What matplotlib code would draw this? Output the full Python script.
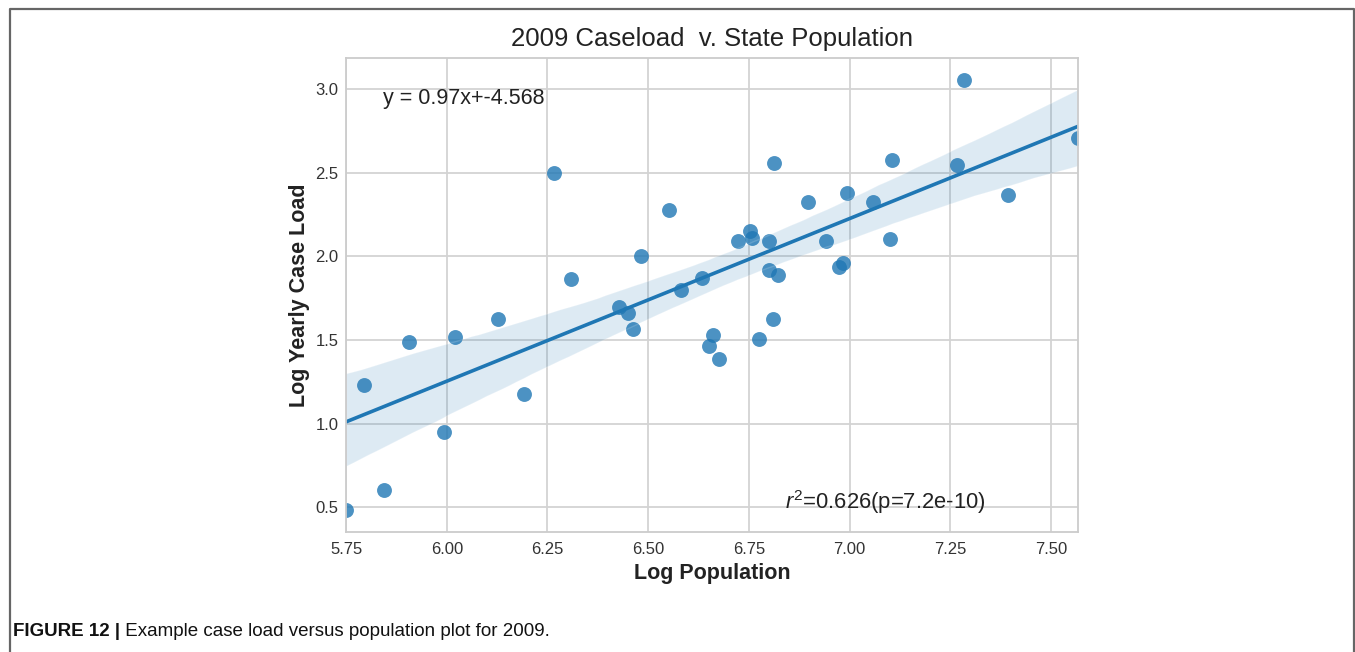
import numpy as np
import matplotlib
matplotlib.use("Agg")
import matplotlib.pyplot as plt
import seaborn as sns
from matplotlib.lines import Line2D

# log population / log yearly case load per state
log_pop = [5.750, 5.795, 5.844, 5.906, 5.993, 6.021, 6.127, 6.192, 6.267, 6.309,
           6.428, 6.450, 6.463, 6.483, 6.552, 6.582, 6.634, 6.651, 6.661, 6.676,
           6.723, 6.753, 6.758, 6.776, 6.800, 6.800, 6.810, 6.813, 6.823, 6.897,
           6.942, 6.974, 6.984, 6.994, 7.059, 7.100, 7.106, 7.267, 7.284, 7.394,
           7.567]
log_load = [0.480, 1.233, 0.600, 1.490, 0.952, 1.520, 1.622, 1.174, 2.500, 1.866,
            1.699, 1.663, 1.567, 2.004, 2.279, 1.800, 1.872, 1.466, 1.532, 1.383,
            2.093, 2.153, 2.110, 1.508, 2.093, 1.920, 1.627, 2.559, 1.890, 2.327,
            2.093, 1.938, 1.962, 2.380, 2.327, 2.105, 2.577, 2.547, 3.056, 2.367,
            2.709]

fit_label = "y = 0.97x+-4.568"
r2_label = r"$r^2$=0.626(p=7.2e-10)"
title = "2009 Caseload  v. State Population"
caption_bold = "FIGURE 12 |"
caption_text = " Example case load versus population plot for 2009."

sns.set_style("whitegrid")
plt.rcParams['font.family'] = ['Liberation Sans', 'DejaVu Sans']
plt.rcParams['mathtext.fontset'] = 'custom'
plt.rcParams['mathtext.it'] = 'Liberation Sans:italic'
plt.rcParams['mathtext.rm'] = 'Liberation Sans'

x = np.array(log_pop)
y = np.array(log_load)

fig = plt.figure(figsize=(13.55, 6.52), dpi=100)
ax = fig.add_axes([0.2554, 0.184, 0.5402, 0.727])

sns.regplot(x=x, y=y, ax=ax, ci=95, seed=0, truncate=True,
            scatter_kws={"s": 115, "linewidths": 0, "alpha": 0.8},
            line_kws={"lw": 2.6}, color="#1f77b4")

ax.set_xlim(x.min(), x.max())
ax.set_xticks([5.75, 6.00, 6.25, 6.50, 6.75, 7.00, 7.25, 7.50])
ax.set_xticklabels(["5.75", "6.00", "6.25", "6.50", "6.75", "7.00", "7.25", "7.50"])
ax.set_yticks([0.5, 1.0, 1.5, 2.0, 2.5, 3.0])
ax.tick_params(axis='both', labelsize=12, labelcolor='#333333')
ax.tick_params(axis='x', pad=4)
ax.tick_params(axis='y', pad=2)

for sp in ax.spines.values():
    sp.set_color('#cccccc')
    sp.set_linewidth(1.3)
ax.grid(color='#d3d3d3', linewidth=1.3)

ax.set_title(title, fontsize=18.5, color='#222222', pad=9)
ax.set_xlabel("Log Population", fontsize=15.5, fontweight='bold', color='#222222')
ax.set_ylabel("Log Yearly Case Load", fontsize=15.5, fontweight='bold', color='#222222')

ax.text(5.842, 2.94, fit_label, fontsize=15.5, color='#222222', va='center')
ax.text(6.84, 0.53, r2_label, fontsize=15.8, color='#222222', va='center')

# caption and outer frame
fig.canvas.draw()
r = fig.canvas.get_renderer()
t1 = fig.text(13 / 1355, 1 - 632 / 652, caption_bold, fontsize=13.5, fontweight='bold',
              color='#111111', va='center')
bb = t1.get_window_extent(renderer=r)
fig.text(bb.x1 / fig.bbox.width, 1 - 632 / 652, caption_text, fontsize=13.5,
         color='#111111', va='center')

fx0, fx1 = 9.5 / 1355, 1353.5 / 1355
fy1 = 1 - 8.5 / 652
fig.add_artist(Line2D([fx0, fx0, fx1, fx1], [0, fy1, fy1, 0], color='#666666',
                      lw=1.6, transform=fig.transFigure))

fig.savefig("out.png", dpi=100)
